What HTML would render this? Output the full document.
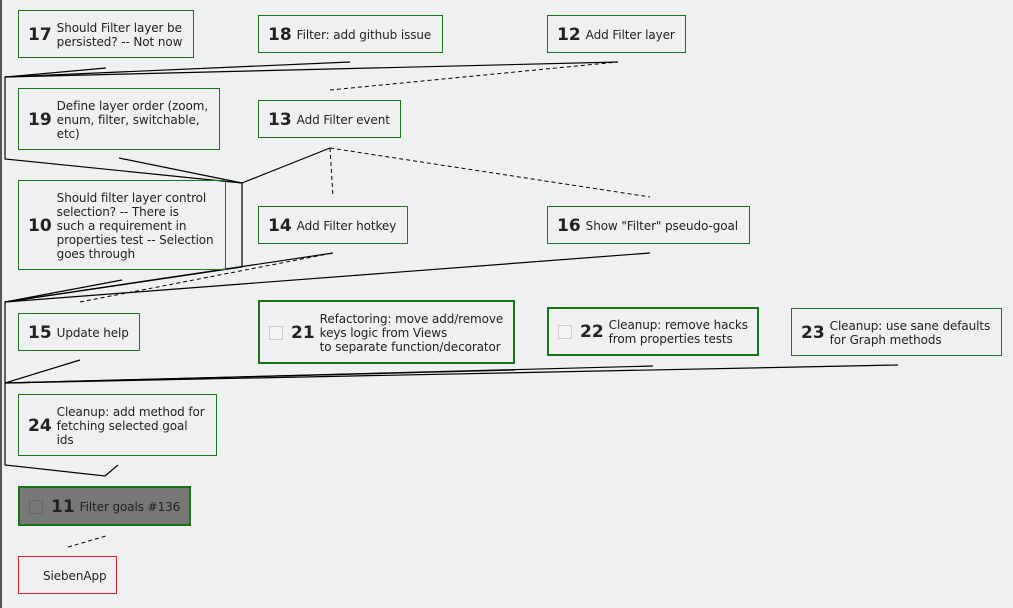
<!DOCTYPE html>
<html><head><meta charset="utf-8"><style>
body{margin:0;width:1013px;height:608px;background:#eff0f1;position:relative;overflow:hidden;font-family:"DejaVu Sans","Liberation Sans",sans-serif;color:#222}
.b{position:absolute;box-sizing:border-box;border:1px solid #1a7a1a;display:flex;align-items:center;padding-left:9px;padding-top:1px;font-size:12px;line-height:14px;letter-spacing:-0.1px}
.b.t{border:2px solid #137513}
.n{font-weight:bold;font-size:17px;margin-right:5px;letter-spacing:0}
.cb{width:12px;height:12px;border:1px solid #ccc;background:#f3f3f3;margin-right:8px;flex:none}
svg{position:absolute;left:0;top:0}
</style></head><body>
<svg width="1013" height="608" fill="none" stroke="#000" stroke-width="1.2">
<line x1="1" y1="0" x2="1" y2="608" stroke="#555" stroke-width="2"/>
<polyline points="106,68 5,77 5,159 242,183 242,267 5,302 5,465 105,476 118,465"/>
<line x1="5" y1="77" x2="350" y2="62"/>
<line x1="5" y1="77" x2="618" y2="62"/>
<line x1="119" y1="158" x2="242" y2="183"/>
<line x1="242" y1="183" x2="330" y2="148"/>
<line x1="5" y1="302" x2="122" y2="280"/>
<line x1="5" y1="302" x2="333" y2="253"/>
<line x1="5" y1="302" x2="650" y2="253"/>
<line x1="5" y1="383" x2="80" y2="360"/>
<line x1="5" y1="383" x2="515" y2="370"/>
<line x1="5" y1="383" x2="653" y2="366"/>
<line x1="5" y1="383" x2="898" y2="365"/>
<g stroke-dasharray="4,3" stroke-width="1">
<line x1="330" y1="90" x2="618" y2="62"/>
<line x1="330" y1="148" x2="333" y2="197"/>
<line x1="330" y1="148" x2="650" y2="197"/>
<line x1="80" y1="302" x2="333" y2="253"/>
<line x1="68" y1="547" x2="106" y2="536"/>
</g>
</svg>
<div class="b" style="left:18px;top:10px;width:176px;height:48px"><span class="n">17</span><span>Should Filter layer be<br>persisted? -- Not now</span></div>
<div class="b" style="left:258px;top:15px;width:185px;height:38px"><span class="n">18</span><span>Filter: add github issue</span></div>
<div class="b" style="left:547px;top:15px;width:139px;height:38px"><span class="n">12</span><span>Add Filter layer</span></div>
<div class="b" style="left:18px;top:88px;width:202px;height:62px"><span class="n">19</span><span>Define layer order (zoom,<br>enum, filter, switchable,<br>etc)</span></div>
<div class="b" style="left:258px;top:100px;width:143px;height:38px"><span class="n">13</span><span>Add Filter event</span></div>
<div class="b" style="left:18px;top:180px;width:208px;height:90px"><span class="n">10</span><span>Should filter layer control<br>selection? -- There is<br>such a requirement in<br>properties test -- Selection<br>goes through</span></div>
<div class="b" style="left:258px;top:206px;width:150px;height:38px"><span class="n">14</span><span>Add Filter hotkey</span></div>
<div class="b" style="left:547px;top:206px;width:203px;height:38px"><span class="n">16</span><span>Show "Filter" pseudo-goal</span></div>
<div class="b" style="left:18px;top:313px;width:122px;height:38px"><span class="n">15</span><span>Update help</span></div>
<div class="b t" style="left:258px;top:300px;width:257px;height:64px"><span class="cb"></span><span class="n">21</span><span>Refactoring: move add/remove<br>keys logic from Views<br>to separate function/decorator</span></div>
<div class="b t" style="left:547px;top:307px;width:212px;height:49px"><span class="cb"></span><span class="n">22</span><span>Cleanup: remove hacks<br>from properties tests</span></div>
<div class="b" style="left:791px;top:308px;width:211px;height:48px"><span class="n">23</span><span>Cleanup: use sane defaults<br>for Graph methods</span></div>
<div class="b" style="left:18px;top:394px;width:199px;height:62px"><span class="n">24</span><span>Cleanup: add method for<br>fetching selected goal<br>ids</span></div>
<div class="b t" style="left:18px;top:486px;width:173px;height:40px;background:#777"><span class="cb" style="background:#777;border-color:#666"></span><span class="n">11</span><span>Filter goals #136</span></div>
<div class="b" style="left:18px;top:556px;width:99px;height:38px;border-color:#d22;padding-left:24px"><span>SiebenApp</span></div>
</body></html>
